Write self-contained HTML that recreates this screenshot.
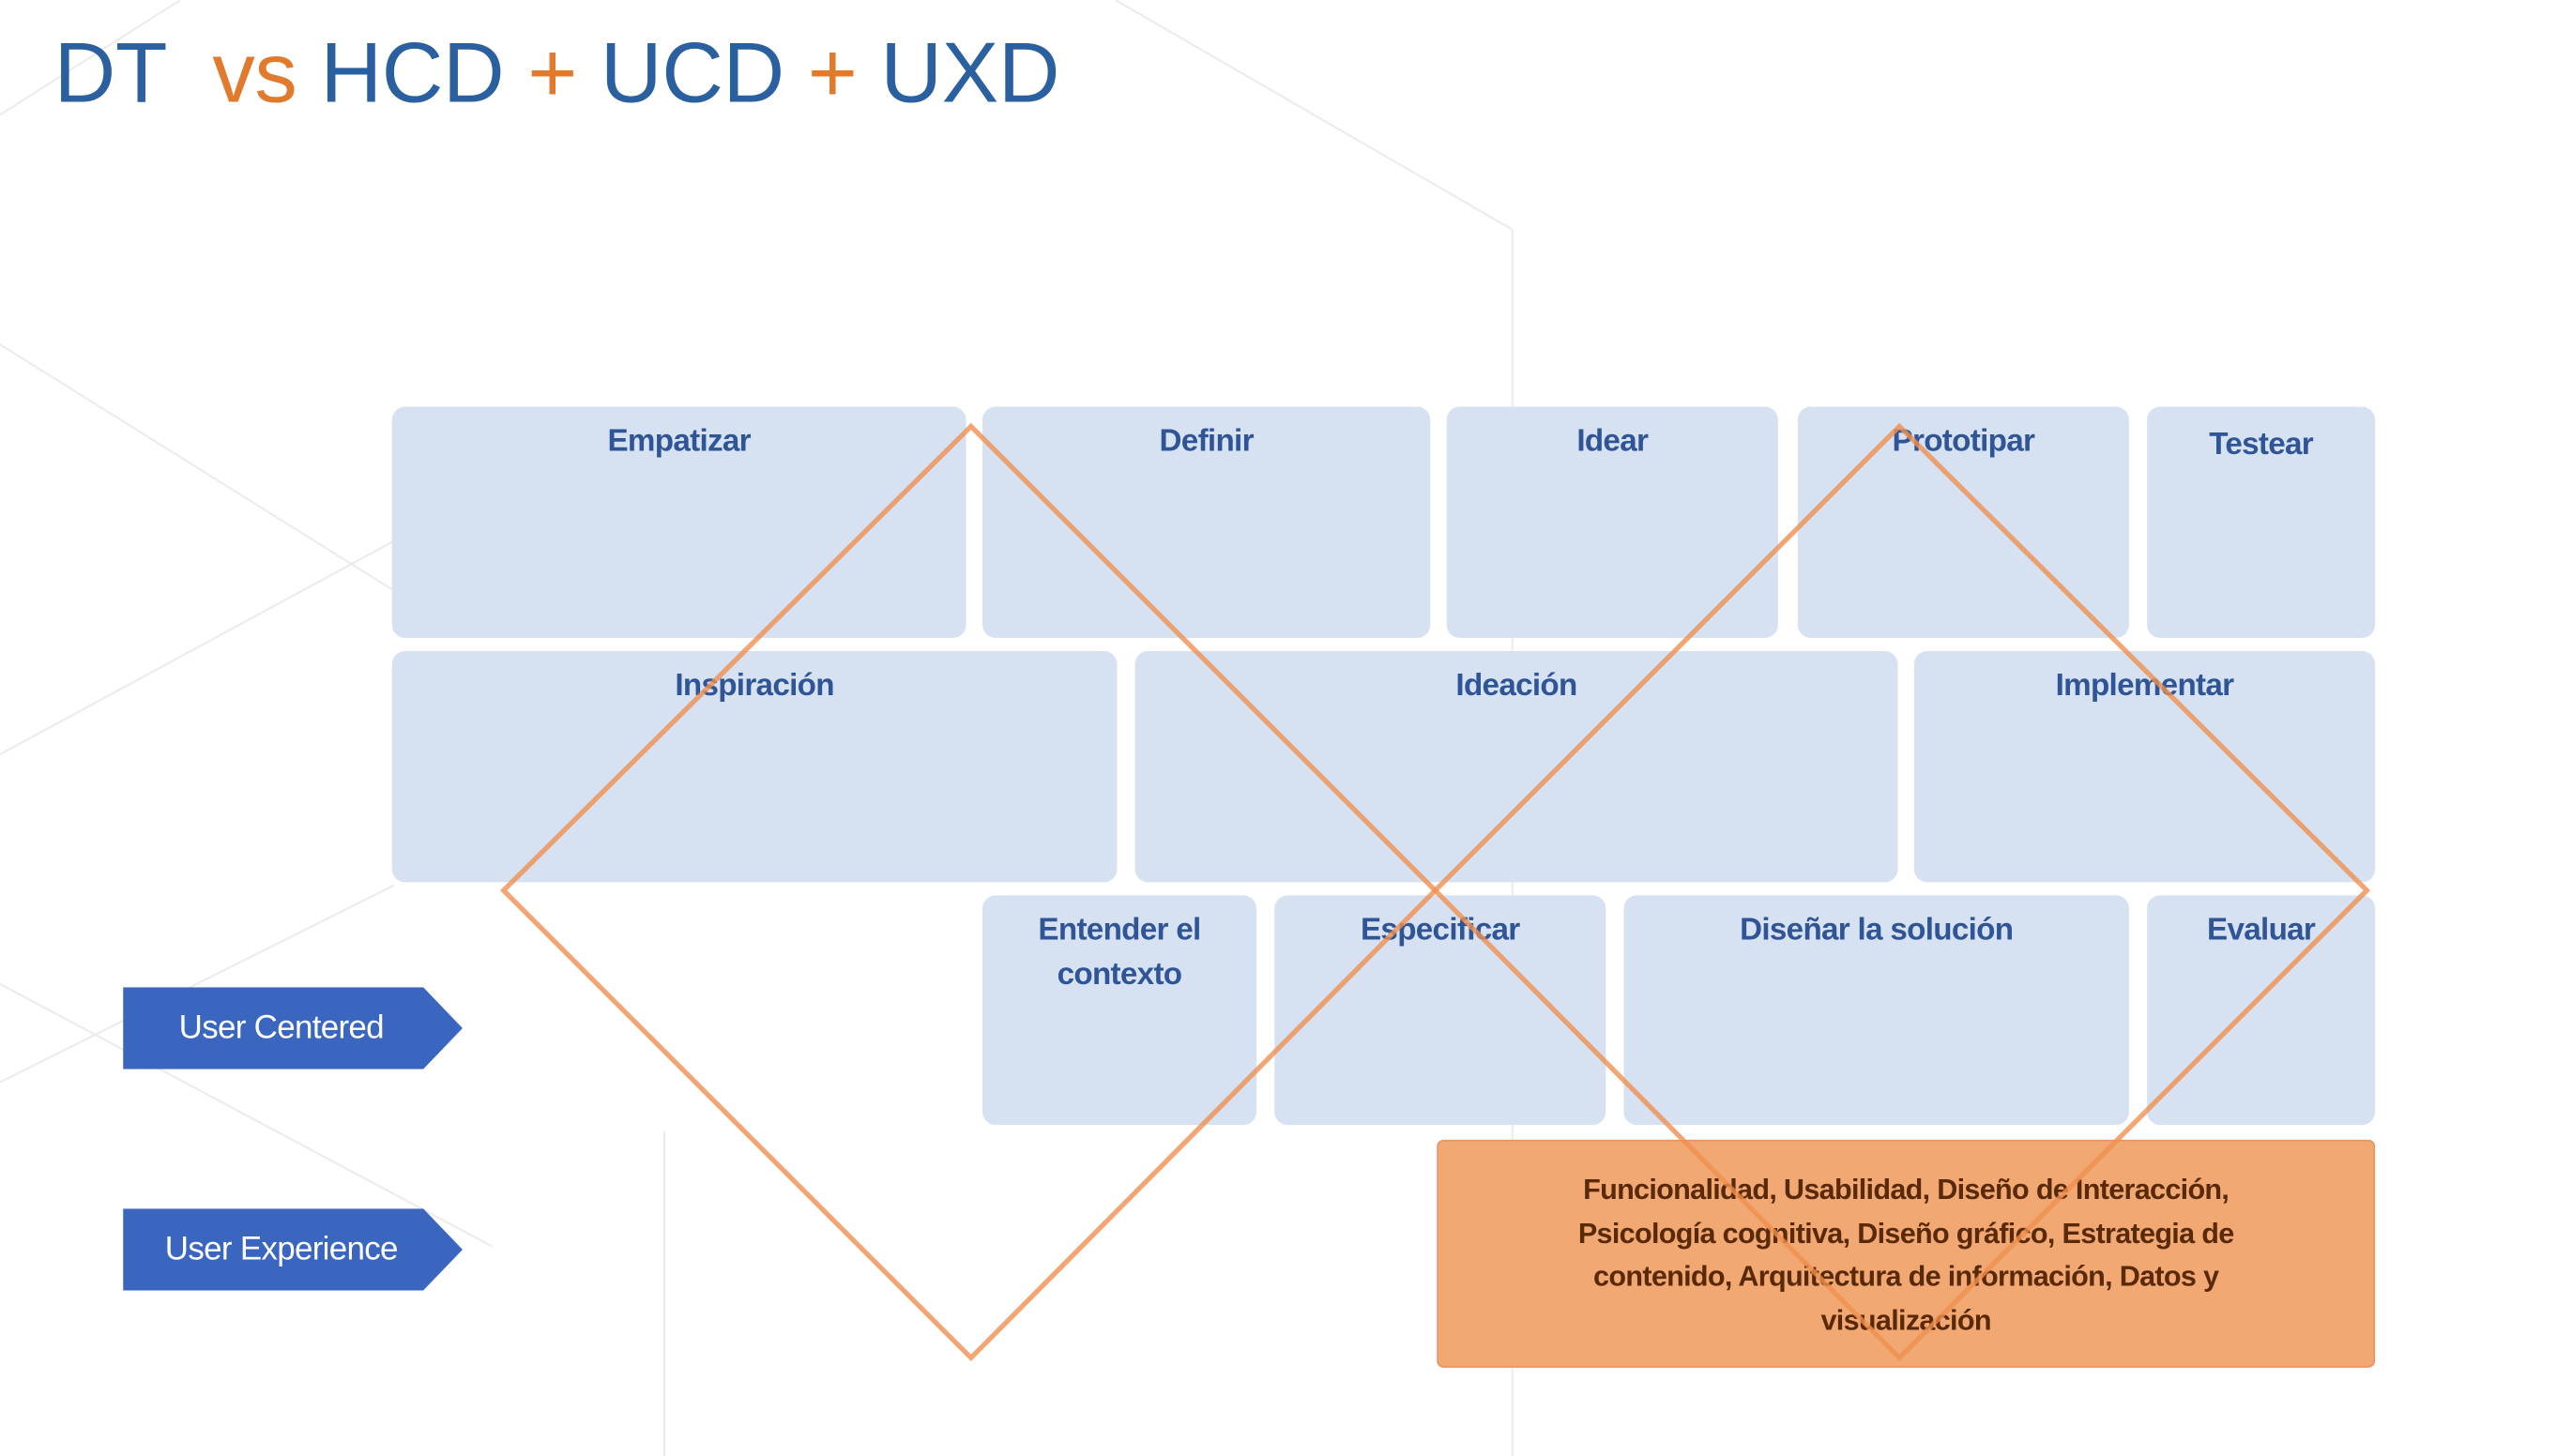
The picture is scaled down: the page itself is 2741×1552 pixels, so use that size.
<!DOCTYPE html>
<html><head><meta charset="utf-8"><style>
html,body{margin:0;padding:0;background:#fff;width:2741px;height:1552px;overflow:hidden}
#s{position:absolute;left:0;top:0;width:1568px;height:888px;transform:scale(1.748);transform-origin:0 0;font-family:"Liberation Sans",sans-serif}
.b{position:absolute;background:#d6e1f1;border-radius:8px;color:#2f5597;font-weight:bold;font-size:19px;letter-spacing:-0.4px;text-align:center;box-sizing:border-box;padding-top:8px;line-height:27px}
.t{position:absolute;left:33px;top:15px;font-size:52px;color:#2a5fa0;white-space:pre;letter-spacing:-0.2px}
.o{color:#e07b2e}
.ar{position:absolute;left:75px;width:207px;height:50px;background:#3a66c0;clip-path:polygon(0 0,183px 0,207px 25px,183px 50px,0 50px);color:#fff;font-size:20px;letter-spacing:-0.4px;line-height:50px;text-align:center;padding-right:14px;box-sizing:border-box}
</style></head><body><div id="s">
<svg width="1568" height="888" style="position:absolute;left:0;top:0">
<g stroke="#ececf0" stroke-width="1.2" fill="none">
<line x1="0" y1="70" x2="110" y2="0"/>
<line x1="680" y1="0" x2="922" y2="140"/>
<line x1="922" y1="140" x2="922" y2="888"/>
<line x1="0" y1="210" x2="240" y2="360"/>
<line x1="0" y1="460" x2="240" y2="330"/>
<line x1="405" y1="690" x2="405" y2="888"/>
<line x1="0" y1="600" x2="300" y2="760"/>
<line x1="0" y1="660" x2="240" y2="540"/>
</g></svg>
<div class="t">DT  <span class="o">vs</span> HCD <span class="o">+</span> UCD <span class="o">+</span> UXD</div>
<div class="b" style="left:239px;top:248px;width:350px;height:141px">Empatizar</div>
<div class="b" style="left:599px;top:248px;width:273px;height:141px">Definir</div>
<div class="b" style="left:882px;top:248px;width:202px;height:141px">Idear</div>
<div class="b" style="left:1096px;top:248px;width:202px;height:141px">Prototipar</div>
<div class="b" style="left:1309px;top:248px;width:139px;height:141px;padding-top:10px">Testear</div>
<div class="b" style="left:239px;top:397px;width:442px;height:141px">Inspiración</div>
<div class="b" style="left:692px;top:397px;width:465px;height:141px">Ideación</div>
<div class="b" style="left:1167px;top:397px;width:281px;height:141px">Implementar</div>
<div class="b" style="left:599px;top:546px;width:167px;height:140px">Entender el<br>contexto</div>
<div class="b" style="left:777px;top:546px;width:202px;height:140px">Especificar</div>
<div class="b" style="left:990px;top:546px;width:308px;height:140px">Diseñar la solución</div>
<div class="b" style="left:1309px;top:546px;width:139px;height:140px">Evaluar</div>
<div style="position:absolute;left:876px;top:695px;width:572px;height:139px;background:#f2a873;border:1px solid #ea9660;border-radius:4px;box-sizing:border-box;color:#5a2a08;font-weight:bold;font-size:17.5px;line-height:26.5px;text-align:center;padding-top:16px;letter-spacing:-0.4px;white-space:nowrap">Funcionalidad, Usabilidad, Diseño de Interacción,<br>Psicología cognitiva, Diseño gráfico, Estrategia de<br>contenido, Arquitectura de información, Datos y<br>visualización</div>
<div class="ar" style="top:602px">User Centered</div>
<div class="ar" style="top:737px">User Experience</div>
<svg width="1568" height="888" style="position:absolute;left:0;top:0">
<g stroke="#f09050" stroke-opacity="0.8" stroke-width="3" fill="none">
<polygon points="592,260 875,543 592,828 307,543"/>
<polygon points="1158,260 1443,543 1158,828 875,543"/>
</g></svg>
</div></body></html>
